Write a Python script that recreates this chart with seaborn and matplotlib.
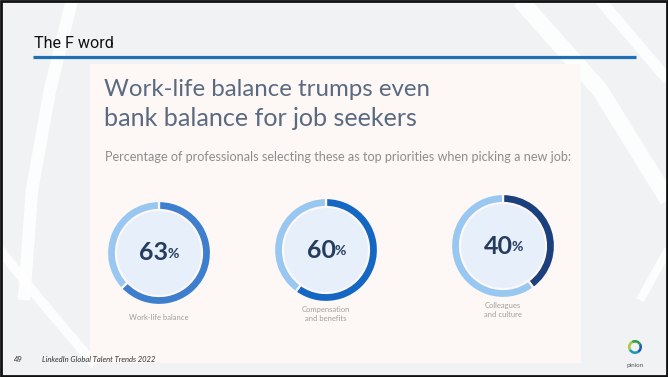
import matplotlib
matplotlib.use("Agg")
import matplotlib.pyplot as plt
import seaborn as sns
from matplotlib.patches import Rectangle, Circle

# ---- data ----
categories = ["Work-life balance", "Compensation\nand benefits", "Colleagues\nand culture"]
values = [63, 60, 40]
value_labels = ["63", "60", "40"]
slide_title = "The F word"
chart_title = ["Work-life balance trumps even", "bank balance for job seekers"]
chart_subtitle = "Percentage of professionals selecting these as top priorities when picking a new job:"
page_number = "49"
source = "LinkedIn Global Talent Trends 2022"

# ---- style ----
sns.set_theme(style="white")
plt.rcParams["font.family"] = ["Lato", "DejaVu Sans"]

W, H = 668, 377
fig = plt.figure(figsize=(6.68, 3.77), dpi=100)
fig.patch.set_facecolor("#f1f2f4")
ax = fig.add_axes([0, 0, 1, 1])
ax.set_facecolor("#f1f2f4")


def Y(y):
    return H - y


# decorative white swooshes on the slide background
for xs, ys, lw in [([72, 50, 32, 24], [0, 90, 190, 300], 9),
                   ([0, 40, 95], [250, 300, 365], 7),
                   ([520, 600, 668], [0, 90, 200], 12),
                   ([600, 668], [0, 80], 8),
                   ([640, 668], [300, 250], 6)]:
    ax.plot(xs, [Y(v) for v in ys], color="white", lw=lw, alpha=0.85,
            solid_capstyle="butt", zorder=0)

# inner panel
panel_col = "#fdf8f5"
ax.add_patch(Rectangle((90, Y(363)), 491, 299, facecolor=panel_col,
                       edgecolor="none", zorder=1))

# slide title + rule
t0 = ax.text(34, Y(44), slide_title, fontsize=14, color="#111111",
             family=["Liberation Sans Narrow", "Roboto", "DejaVu Sans"],
             ha="left", va="center", zorder=3)
ax.plot([33, 636], [Y(56.5), Y(56.5)], color="#1f6fb6", lw=2.3, zorder=3,
        solid_capstyle="butt")

# chart titles
tt1 = ax.text(104, Y(90), chart_title[0], fontsize=16, color="#5a6a80",
              fontweight="normal", ha="left", va="center", zorder=3)
tt2 = ax.text(104, Y(118), chart_title[1], fontsize=16, color="#5a6a80",
              fontweight="normal", ha="left", va="center", zorder=3)
ts = ax.text(105, Y(157), chart_subtitle, fontsize=7.5, color="#8d8d8d",
             ha="left", va="center", zorder=3)

renderer = fig.canvas.get_renderer()


def fit(t, width):
    bb = t.get_window_extent(renderer)
    t.set_fontsize(t.get_fontsize() * width / bb.width)


fit(t0, 80)
fit(tt1, 326)
fit(tt2, 314)
fit(ts, 462)

# donuts
centers = [(159, 253), (326, 250), (503, 246)]
dark_cols = ["#3d7ecf", "#1467c3", "#1c3f7d"]
light_col = "#98c7f1"
inner_col = "#e6effa"
R, RW = 52, 9
for (cx, cy), v, dc, lab, cat in zip(centers, values, dark_cols, value_labels, categories):
    ax.add_patch(Circle((cx, Y(cy)), R - RW, facecolor=inner_col,
                        edgecolor="none", zorder=2))
    wedges, _ = ax.pie([v, 100 - v], colors=[dc, light_col], startangle=90,
                       counterclock=False, radius=R, center=(cx, Y(cy)),
                       frame=True,
                       wedgeprops=dict(width=RW, edgecolor=panel_col, linewidth=1.6))
    for w in wedges:
        w.set_zorder(3)
    tv = ax.text(cx - 5, Y(cy), lab, fontsize=18, color="#263c5f",
                 fontweight="bold", ha="center", va="center", zorder=4)
    ax.annotate("%", xy=(0.98, 0.2), xycoords=tv, fontsize=10,
                color="#263c5f", fontweight="bold", ha="left", va="bottom",
                zorder=4)
    ax.text(cx, Y(cy + 64), cat, fontsize=5.5, color="#a0a0a0",
            ha="center", va="center", linespacing=1.3, zorder=4)

# footer
ax.text(14, Y(360), page_number, fontsize=5.5, color="#333333",
        ha="left", va="center", zorder=4)
ax.text(42, Y(360), source, fontsize=5.5, color="#333333", style="italic",
        ha="left", va="center", zorder=4)

# pinion logo
lw_, _ = ax.pie([1, 1, 1, 1], colors=["#2e9c4a", "#a8c93a", "#1a9bb5", "#1f5fb0"],
                radius=7, center=(635, Y(347)), frame=True, startangle=30,
                wedgeprops=dict(width=2.6, linewidth=0))
for w in lw_:
    w.set_zorder(4)
ax.text(635, Y(365), "pinion", fontsize=4.5, color="#555555",
        ha="center", va="center", zorder=4)

# slide border
ax.add_patch(Rectangle((1, 1), W - 2, H - 2, facecolor="none",
                       edgecolor="#111111", lw=2, zorder=5))

ax.set_xlim(0, W)
ax.set_ylim(0, H)
ax.set_aspect("auto")
ax.axis("off")

fig.savefig("out.png", dpi=100, facecolor=fig.get_facecolor())
